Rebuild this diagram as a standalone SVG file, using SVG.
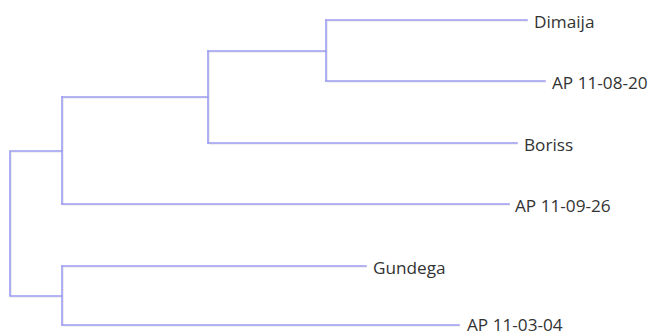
<svg xmlns="http://www.w3.org/2000/svg" width="652" height="336" viewBox="0 0 652 336">
<style>
.e{fill:none;stroke:#9d9df2;stroke-width:1.6;stroke-linecap:square}
.s{fill:none;stroke:#e2e2e6;stroke-width:1.2}
.t{font-family:"Open Sans","Noto Sans",sans-serif;font-size:17.2px;fill:#333333}
</style>
<rect width="652" height="336" fill="#ffffff"/>
<g id="connectors">
<g transform="translate(1,1)">
<path class="s" d="M62,151H10V296H62M62,97V204M208,97H62M208,51V143M326,51H208M326,20V81M326,20H527M326,81H545M208,143H517M62,204H509M62,266V325M62,266H366M62,325H459"/>
</g>
<path class="e" d="M62,151H10V296H62"/>
<path class="e" d="M62,97V204"/>
<path class="e" d="M208,97H62"/>
<path class="e" d="M208,51V143"/>
<path class="e" d="M326,51H208"/>
<path class="e" d="M326,20V81"/>
<path class="e" d="M326,20H527"/>
<path class="e" d="M326,81H545"/>
<path class="e" d="M208,143H517"/>
<path class="e" d="M62,204H509"/>
<path class="e" d="M62,266V325"/>
<path class="e" d="M62,266H366"/>
<path class="e" d="M62,325H459"/>
</g>
<g id="leaf-dimaija"><text class="t" x="534" y="28">Dimaija</text></g>
<g id="leaf-ap-11-08-20"><text class="t" x="552" y="89">AP 11-08-20</text></g>
<g id="leaf-boriss"><text class="t" x="524" y="151">Boriss</text></g>
<g id="leaf-ap-11-09-26"><text class="t" x="515" y="212">AP 11-09-26</text></g>
<g id="leaf-gundega"><text class="t" x="373" y="274">Gundega</text></g>
<g id="leaf-ap-11-03-04"><text class="t" x="467" y="331">AP 11-03-04</text></g>
</svg>
